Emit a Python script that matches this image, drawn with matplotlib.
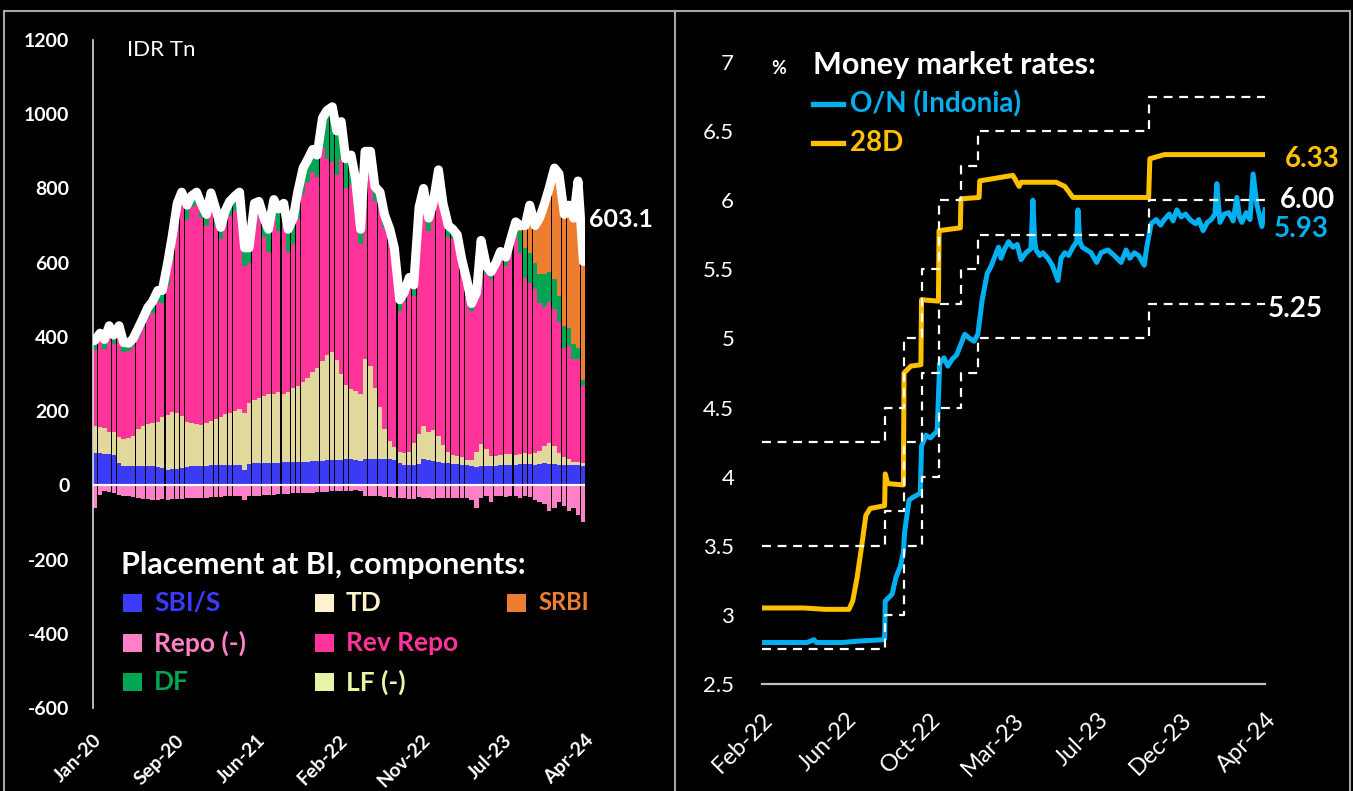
import matplotlib
matplotlib.use("Agg")
import matplotlib.pyplot as plt
from matplotlib.lines import Line2D
from matplotlib.patches import Rectangle
import pandas as pd

plt.rcParams['font.family'] = ['Lato', 'DejaVu Sans']
plt.rcParams['axes.unicode_minus'] = False

# ---------------- left panel: placement at BI, IDR Tn (semi-monthly readings)
place_dates = pd.date_range('2020-01-15', '2024-04-01', freq='SMS')

total = [390, 410, 393, 430, 405, 430, 385, 383, 395, 425, 450, 480, 495, 525, 525, 600, 670, 760, 790, 755, 780, 790, 760,
         730, 788, 740, 695, 740, 765, 780, 790, 640, 640, 760, 765, 720, 690, 770, 745, 760, 690, 720, 790, 855, 877, 905, 890,
         990, 1010, 1020, 955, 980, 880, 890, 825, 690, 900, 900, 805, 790, 730, 690, 640, 500, 520, 560, 540, 750, 800, 720, 760,
         850, 760, 700, 690, 675, 610, 550, 490, 520, 660, 590, 575, 600, 630, 615, 660, 710, 700, 700, 755, 700, 720, 760, 800,
         855, 840, 730, 755, 720, 820, 603.1]
sbi = [86, 86, 85, 84, 83, 60, 52, 52, 52, 51, 51, 52, 52, 50, 48, 40, 43, 44, 46, 50, 52, 52, 53,
       53, 54, 55, 55, 55, 56, 56, 55, 40, 58, 60, 60, 61, 61, 60, 61, 62, 62, 63, 63, 64, 64, 65, 66,
       66, 67, 68, 68, 69, 70, 70, 68, 66, 70, 71, 72, 72, 71, 70, 69, 60, 56, 55, 54, 58, 70, 68, 65,
       62, 60, 60, 58, 58, 56, 54, 52, 50, 52, 52, 53, 53, 54, 54, 55, 56, 57, 58, 57, 56, 58, 60, 58,
       57, 56, 56, 55, 54, 54, 52]
td = [75, 72, 70, 60, 60, 70, 72, 75, 80, 100, 110, 112, 115, 120, 135, 150, 155, 150, 140, 120, 115, 112, 110,
      115, 120, 125, 130, 138, 140, 145, 150, 155, 165, 170, 175, 180, 185, 185, 190, 185, 190, 200, 205, 215, 225, 240, 250,
      270, 285, 290, 270, 230, 200, 190, 185, 180, 270, 250, 190, 140, 80, 50, 35, 30, 30, 35, 60, 80, 90, 75, 85,
      70, 50, 30, 25, 20, 20, 15, 15, 40, 60, 45, 25, 25, 28, 30, 30, 25, 28, 30, 28, 30, 35, 45, 55,
      50, 30, 20, 15, 10, 10, 8]
dfac = [25, 20, 25, 20, 25, 20, 25, 20, 20, 25, 25, 30, 30, 30, 35, 60, 60, 40, 30, 40, 30, 35, 40,
        30, 40, 40, 30, 35, 40, 40, 50, 50, 40, 60, 40, 50, 60, 50, 60, 60, 60, 70, 70, 70, 60, 60, 60,
        80, 130, 150, 120, 100, 80, 80, 70, 40, 50, 60, 40, 40, 35, 30, 35, 30, 25, 25, 30, 30, 40, 35, 30,
        30, 30, 30, 25, 25, 20, 20, 20, 20, 25, 20, 20, 20, 20, 25, 30, 40, 60, 80, 80, 70, 80, 90, 80,
        80, 70, 60, 50, 40, 30, 15]
repo = [-60, -25, -15, -18, -20, -25, -28, -30, -32, -35, -38, -38, -40, -40, -38, -40, -38, -36, -36, -35, -35, -34, -34,
        -33, -32, -32, -31, -30, -30, -30, -30, -40, -30, -28, -28, -27, -26, -25, -24, -24, -23, -22, -22, -21, -20, -20, -19,
        -18, -17, -16, -15, -15, -14, -14, -13, -15, -30, -28, -30, -30, -32, -32, -33, -35, -35, -36, -36, -32, -35, -35, -36,
        -35, -34, -33, -35, -34, -33, -35, -40, -60, -35, -30, -45, -30, -28, -32, -30, -30, -35, -30, -32, -40, -45, -50, -70,
        -60, -45, -55, -70, -60, -80, -100]
srbi_start = '2023-09-15'
srbi_vals = [15, 60, 130, 100, 150, 190, 225, 300, 330, 300, 330, 340, 450, 320]

left_tick_labels = ['Jan-20', 'Sep-20', 'Jun-21', 'Feb-22', 'Nov-22', 'Jul-23', 'Apr-24']

# ---------------- right panel: money market rates, %
mm_28d_dates = ['2022-02-07', '2022-04-15', '2022-05-20', '2022-06-26', '2022-07-02', '2022-07-09', '2022-07-17',
                '2022-07-23', '2022-07-30', '2022-08-22', '2022-08-23', '2022-08-27', '2022-09-21', '2022-09-22',
                '2022-10-03', '2022-10-19', '2022-10-20', '2022-11-16', '2022-11-17', '2022-12-21', '2022-12-22',
                '2023-01-20', '2023-01-21', '2023-03-15', '2023-03-25', '2023-03-28', '2023-05-23', '2023-06-06',
                '2023-06-19', '2023-10-18', '2023-10-20', '2023-11-12', '2024-04-21']
mm_28d = [3.05, 3.05, 3.04, 3.04, 3.10, 3.27, 3.52, 3.72, 3.77, 3.79, 4.02, 3.95, 3.94, 4.75,
          4.80, 4.81, 5.28, 5.27, 5.78, 5.80, 6.01, 6.02, 6.14, 6.18, 6.10, 6.13, 6.13, 6.10,
          6.02, 6.02, 6.30, 6.33, 6.33]

on_dates = ['2022-02-07', '2022-03-10', '2022-04-20', '2022-05-01', '2022-05-05', '2022-06-15', '2022-07-10',
            '2022-08-19', '2022-08-22', '2022-08-23', '2022-09-03', '2022-09-09', '2022-09-16', '2022-09-21',
            '2022-09-23', '2022-09-30', '2022-10-06', '2022-10-18', '2022-10-20', '2022-10-27', '2022-11-03',
            '2022-11-14', '2022-11-18', '2022-11-25', '2022-12-01', '2022-12-08', '2022-12-15', '2022-12-22',
            '2022-12-28', '2023-01-05', '2023-01-12', '2023-01-18', '2023-01-25', '2023-02-02', '2023-02-08',
            '2023-02-14', '2023-02-20', '2023-02-24', '2023-03-01', '2023-03-08', '2023-03-15', '2023-03-22',
            '2023-03-28', '2023-04-05', '2023-04-13', '2023-04-16', '2023-04-19', '2023-04-21', '2023-04-27',
            '2023-05-02', '2023-05-10', '2023-05-17', '2023-05-26', '2023-05-31', '2023-06-06', '2023-06-12',
            '2023-06-19', '2023-06-25', '2023-06-27', '2023-06-30', '2023-07-04', '2023-07-11', '2023-07-18',
            '2023-07-27', '2023-08-03', '2023-08-14', '2023-08-24', '2023-09-04', '2023-09-12', '2023-09-18',
            '2023-09-25', '2023-10-02', '2023-10-11', '2023-10-15', '2023-10-22', '2023-10-30', '2023-11-06',
            '2023-11-12', '2023-11-20', '2023-11-26', '2023-12-02', '2023-12-09', '2023-12-16', '2023-12-23',
            '2024-01-01', '2024-01-06', '2024-01-13', '2024-01-20', '2024-01-26', '2024-02-01', '2024-02-04',
            '2024-02-09', '2024-02-16', '2024-02-23', '2024-03-01', '2024-03-07', '2024-03-11', '2024-03-15',
            '2024-03-22', '2024-03-28', '2024-04-02', '2024-04-08', '2024-04-16', '2024-04-21']
on_rate = [2.80, 2.80, 2.80, 2.82, 2.80, 2.80, 2.81,
           2.82, 2.83, 3.10, 3.15, 3.27, 3.35, 3.45,
           3.60, 3.83, 3.85, 3.88, 4.22, 4.30, 4.28,
           4.33, 4.82, 4.86, 4.80, 4.85, 4.88, 4.96,
           5.03, 5.00, 4.98, 5.03, 5.28, 5.47, 5.52,
           5.59, 5.66, 5.58, 5.64, 5.70, 5.66, 5.68,
           5.57, 5.62, 5.65, 6.00, 5.70, 5.64, 5.60,
           5.62, 5.58, 5.53, 5.42, 5.58, 5.62, 5.60,
           5.66, 5.70, 5.93, 5.70, 5.66, 5.64, 5.62,
           5.55, 5.62, 5.64, 5.60, 5.55, 5.64, 5.58,
           5.62, 5.60, 5.53, 5.66, 5.83, 5.86, 5.82,
           5.86, 5.90, 5.85, 5.93, 5.88, 5.90, 5.86,
           5.83, 5.86, 5.78, 5.84, 5.86, 5.90, 6.12,
           5.84, 5.90, 5.91, 5.85, 6.02, 5.88, 5.84,
           5.91, 5.86, 6.19, 5.97, 5.81, 5.93]

policy_dates = ['2022-02-07', '2022-08-23', '2022-09-22', '2022-10-20', '2022-11-17', '2022-12-22',
                '2023-01-19', '2023-10-19', '2024-04-21']
lf_rate = [4.25, 4.50, 5.00, 5.50, 6.00, 6.25, 6.50, 6.75, 6.75]
bi_rate = [3.50, 3.75, 4.25, 4.75, 5.25, 5.50, 5.75, 6.00, 6.00]
df_rate = [2.75, 3.00, 3.50, 4.00, 4.50, 4.75, 5.00, 5.25, 5.25]

right_tick_labels = ['Feb-22', 'Jun-22', 'Oct-22', 'Mar-23', 'Jul-23', 'Dec-23', 'Apr-24']

# colours
C_SBI, C_TD, C_SRBI = '#3b3bf5', '#e2d89c', '#ed7d31'
C_REPO, C_REV, C_DF, C_LF = '#ff80c6', '#ff3399', '#00a651', '#e6f5a6'
C_ON, C_28D = '#00b0f0', '#ffc000'

W, H = 1353, 791


def fx(x):
    return x / W


def fy(y):
    return 1 - y / H


fig = plt.figure(figsize=(W / 100, H / 100), dpi=100, facecolor='black')

# ---------------- left chart
tbl = pd.DataFrame({'total': total, 'sbi': sbi, 'td': td, 'df': dfac, 'repo': repo},
                   index=place_dates)
tbl['srbi'] = 0.0
tbl.loc[srbi_start:, 'srbi'] = srbi_vals
tbl['rev'] = tbl['total'] - tbl[['sbi', 'td', 'df', 'srbi']].sum(axis=1)

axL = fig.add_axes([fx(93), fy(708), fx(492), 668 / H])
axL.set_facecolor('black')
bottom = pd.Series(0.0, index=tbl.index)
for col, c in [('sbi', C_SBI), ('td', C_TD), ('rev', C_REV), ('df', C_DF), ('srbi', C_SRBI)]:
    axL.bar(tbl.index, tbl[col], width=13.5, bottom=bottom, color=c, linewidth=0)
    bottom = bottom + tbl[col]
axL.bar(tbl.index, tbl['repo'], width=13.5, color=C_REPO, linewidth=0)
axL.plot(tbl.index, tbl['total'], color='white', lw=6.5, solid_joinstyle='round',
         solid_capstyle='round', zorder=5)
axL.axhline(0, color='white', lw=1.6, zorder=6)

t0 = pd.Timestamp('2020-01-10')
lticks = [t0 + pd.Timedelta(days=258 * k) for k in range(7)]
axL.set_xlim(lticks[0], lticks[-1])
axL.set_ylim(-600, 1200)
axL.set_yticks(range(-600, 1201, 200))
axL.set_xticks(lticks)
axL.set_xticklabels(left_tick_labels, rotation=45, ha='right', rotation_mode='anchor')
for s in ['top', 'right', 'bottom']:
    axL.spines[s].set_visible(False)
axL.spines['left'].set_color('#d9d9d9')
axL.spines['left'].set_linewidth(1.2)
axL.tick_params(axis='y', length=0, colors='white', labelsize=14, pad=17)
axL.tick_params(axis='x', length=0, colors='white', labelsize=14, pad=17)
for lbl in axL.get_yticklabels() + axL.get_xticklabels():
    lbl.set_fontweight('bold')

last = tbl.index[-1]
axL.annotate(f"{tbl['total'].iloc[-1]:.1f}", xy=(last, tbl['total'].iloc[-1]), xytext=(4, 30),
             textcoords='offset points', color='white', fontsize=18, fontweight='bold',
             va='center', ha='left')

fig.text(fx(127), fy(50), 'IDR Tn', color='white', fontsize=16, va='center', ha='left')

# left legend
fig.text(fx(121), fy(565), 'Placement at BI, components:', color='white', fontsize=22,
         fontweight='bold', va='center', ha='left')
leg_items = [('SBI/S', '#3b3bff', 0, 0), ('TD', '#fff2cc', 1, 0), ('SRBI', C_SRBI, 2, 0),
             ('Repo (-)', C_REPO, 0, 1), ('Rev Repo', C_REV, 1, 1),
             ('DF', C_DF, 0, 2), ('LF (-)', C_LF, 1, 2)]
col_x = [123, 315, 507]
row_y = [603, 643, 682]
for lab, c, ci, ri in leg_items:
    x, y = col_x[ci], row_y[ri]
    fig.add_artist(Rectangle((fx(x), fy(y + 9)), 19 / W, 18 / H, transform=fig.transFigure,
                             facecolor=c, edgecolor='none'))
    fig.text(fx(x + 31), fy(y), lab, color=c, fontsize=19 if ci < 2 else 17,
             fontweight='bold', va='center', ha='left')

# ---------------- right chart
axR = fig.add_axes([fx(762), fy(684), fx(503), 622 / H])
axR.set_facecolor('black')
pd_dates = pd.to_datetime(policy_dates)
for rates in (lf_rate, bi_rate, df_rate):
    axR.plot(pd_dates, rates, drawstyle='steps-post', color='white', lw=1.6,
             ls=(0, (4, 3)), zorder=4)
axR.plot(pd.to_datetime(mm_28d_dates), mm_28d, color=C_28D, lw=3.6, solid_joinstyle='round', zorder=3)
axR.plot(pd.to_datetime(on_dates), on_rate, color=C_ON, lw=3.6, solid_joinstyle='round', zorder=3)

r0 = pd.Timestamp('2022-02-07')
rticks = [r0 + pd.Timedelta(days=134 * k) for k in range(7)]
axR.set_xlim(rticks[0], rticks[-1])
axR.set_ylim(2.5, 7)
yt = [2.5, 3, 3.5, 4, 4.5, 5, 5.5, 6, 6.5, 7]
axR.set_yticks(yt)
axR.set_yticklabels([f'{v:g}' for v in yt])
axR.set_xticks(rticks)
axR.set_xticklabels(right_tick_labels, rotation=45, ha='right', rotation_mode='anchor')
for s in ['top', 'right', 'left']:
    axR.spines[s].set_visible(False)
axR.spines['bottom'].set_color('#bfbfbf')
axR.spines['bottom'].set_linewidth(1.6)
axR.tick_params(axis='y', length=0, colors='white', labelsize=16, pad=20)
axR.tick_params(axis='x', length=0, colors='white', labelsize=17, pad=18)

end = rticks[-1]
end_labels = [(mm_28d[-1], C_28D, 14, -3), (bi_rate[-1], 'white', 11, 0),
              (on_rate[-1], C_ON, 6.5, -14), (df_rate[-1], 'white', 2, -4)]
for v, c, dx, dy in end_labels:
    axR.annotate(f'{v:.2f}', xy=(end, v), xytext=(dx, dy), textcoords='offset points',
                 color=c, fontsize=20, fontweight='bold', va='center', ha='left')

fig.text(fx(771), fy(68), '%', color='white', fontsize=13, fontweight='bold', va='center', ha='left')
fig.text(fx(813), fy(65), 'Money market rates:', color='white', fontsize=22, fontweight='bold',
         va='center', ha='left')
for lab, c, y in [('O/N (Indonia)', C_ON, 104), ('28D', C_28D, 143)]:
    fig.add_artist(Line2D([fx(813), fx(843)], [fy(y), fy(y)], transform=fig.transFigure,
                          color=c, lw=3.8))
    fig.text(fx(850), fy(y), lab, color=c, fontsize=20, fontweight='bold', va='center', ha='left')

# panel frames
frame = '#a6a6a6'
fig.add_artist(Line2D([fx(4), fx(1350)], [fy(11), fy(11)], transform=fig.transFigure, color=frame, lw=1.5))
for x in (4, 675, 1350):
    fig.add_artist(Line2D([fx(x), fx(x)], [fy(11), 0], transform=fig.transFigure, color=frame, lw=1.5))

plt.savefig('out.png', dpi=100, facecolor='black')
